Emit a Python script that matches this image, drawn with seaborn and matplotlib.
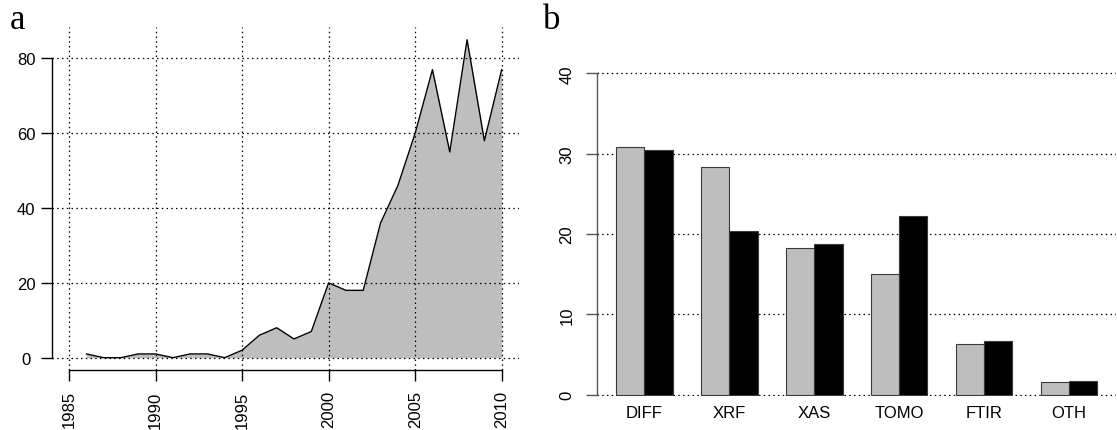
import matplotlib
matplotlib.use("Agg")
import matplotlib.pyplot as plt
import seaborn as sns
import pandas as pd

# Panel a: yearly counts
years = list(range(1986, 2011))
counts = [1, 0, 0, 1, 1, 0, 1, 1, 0, 2, 6, 8, 5, 7, 20, 18, 18,
          36, 46, 60, 77, 55, 85, 58, 77]
year_ticks = [1985, 1990, 1995, 2000, 2005, 2010]
count_ticks = [0, 20, 40, 60, 80]

# Panel b: share per technique, two series
techniques = ["DIFF", "XRF", "XAS", "TOMO", "FTIR", "OTH"]
share_first = [30.8, 28.3, 18.2, 15.0, 6.3, 1.6]
share_second = [30.5, 20.4, 18.7, 22.3, 6.7, 1.7]
share_ticks = [0, 10, 20, 30, 40]

sns.set_style("white")
plt.rcParams["font.family"] = ["Liberation Sans", "DejaVu Sans"]
plt.rcParams["font.size"] = 12
for key in ["text.color", "xtick.color", "ytick.color", "axes.labelcolor",
            "xtick.labelcolor", "ytick.labelcolor"]:
    plt.rcParams[key] = "black"

GRAY = "#BEBEBE"
DOT = (0, (1.2, 2.6))

fig = plt.figure(figsize=(11.17, 4.31), dpi=100)

# ---------------- panel a ----------------
ax1 = fig.add_axes([0.04628, 0.13828, 0.41836, 0.79675])
df_a = pd.DataFrame({"year": years, "count": counts})
ax1.fill_between(df_a["year"], 0, df_a["count"], color=GRAY, linewidth=0, zorder=1)
sns.lineplot(data=df_a, x="year", y="count", color="black", linewidth=1.0,
             ax=ax1, zorder=3)
ax1.set_xlim(1984, 2011)
ax1.set_ylim(-3.4, 88.4)
for yv in count_ticks:
    ax1.axhline(yv, color="black", linestyle=DOT, linewidth=0.9, zorder=2)
for xv in year_ticks:
    ax1.axvline(xv, color="black", linestyle=DOT, linewidth=0.9, zorder=2)
ax1.set_xticks(year_ticks)
ax1.set_xticklabels([str(v) for v in year_ticks])
ax1.set_yticks(count_ticks)
ax1.set_yticklabels([str(v) for v in count_ticks], ha="center")
ax1.tick_params(axis="x", length=7.7, width=1.0, color="black", pad=7.2,
                bottom=True, labelrotation=90)
ax1.tick_params(axis="y", length=7.7, width=1.0, color="black", pad=10.8,
                left=True)
ax1.set_xlabel("")
ax1.set_ylabel("")
for s in ["top", "right"]:
    ax1.spines[s].set_visible(False)
ax1.spines["left"].set_bounds(0, 80)
ax1.spines["bottom"].set_bounds(1985, 2010)
ax1.spines["bottom"].set_position(("data", -3.2))
for s in ["left", "bottom"]:
    ax1.spines[s].set_color("black")
    ax1.spines[s].set_linewidth(1.0)
ax1.grid(False)

# ---------------- panel b ----------------
ax2 = fig.add_axes([0.53443, 0.0782, 0.4651, 0.7793])
df_b = pd.DataFrame({
    "technique": techniques * 2,
    "share": share_first + share_second,
    "series": ["first"] * len(techniques) + ["second"] * len(techniques),
})
for yv in share_ticks:
    ax2.axhline(yv, color="black", linestyle=DOT, linewidth=0.9, zorder=0)
sns.barplot(data=df_b, x="technique", y="share", hue="series",
            palette=[GRAY, "black"], width=2 / 3, errorbar=None,
            edgecolor="#3a3a3a", linewidth=0.8, legend=False, ax=ax2,
            zorder=2)
ax2.set_xlim(-0.56, 5.56)
ax2.set_ylim(-0.2, 41.6)
ax2.set_yticks(share_ticks)
ax2.set_yticklabels([str(v) for v in share_ticks], rotation=90, va="center")
ax2.tick_params(axis="y", length=7.7, width=1.0, color="#555555", pad=8.5,
                left=True)
ax2.tick_params(axis="x", length=0, pad=6.3)
ax2.set_xlabel("")
ax2.set_ylabel("")
for s in ["top", "right", "bottom"]:
    ax2.spines[s].set_visible(False)
ax2.spines["left"].set_bounds(0, 40)
ax2.spines["left"].set_color("#555555")
ax2.spines["left"].set_linewidth(1.0)
ax2.grid(False)

# panel letters
fig.text(10 / 1117, 1 - 29 / 431, "a", family=["Liberation Serif", "DejaVu Serif"],
         fontsize=25, va="baseline", ha="left", color="black")
fig.text(543 / 1117, 1 - 29 / 431, "b", family=["Liberation Serif", "DejaVu Serif"],
         fontsize=25, va="baseline", ha="left", color="black")

fig.savefig("out.png", dpi=100)
